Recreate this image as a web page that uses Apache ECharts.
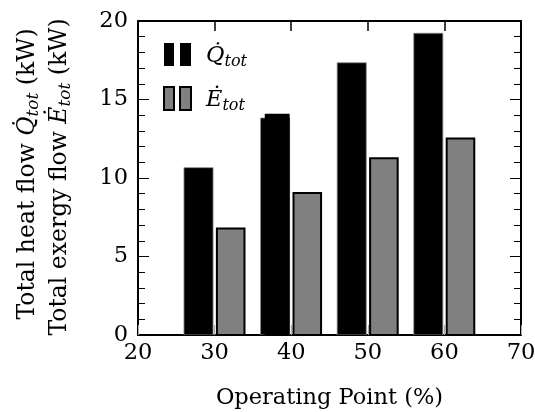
<!DOCTYPE html>
<html>
<head>
<meta charset="utf-8">
<script src="https://cdn.jsdelivr.net/npm/echarts@6/dist/echarts.min.js"></script>
<style>html,body{margin:0;padding:0;background:#fff}#c{width:535px;height:412px}</style>
</head>
<body>
<div id="c"></div>
<script>
// ---- data ----
var operatingPoints = [30, 40, 50, 60];
var heatFlow = [10.66, 13.82, 17.34, 19.22];      // Q_tot (kW)
var exergyFlow = [6.78, 9.04, 11.26, 12.52];      // E_tot (kW)
// small overlapping black patch seen at the 40 % bar
var heatFlowOverlapPoint = [40];
var heatFlowOverlapValue = [14.1];
var xTicks = [20, 30, 40, 50, 60, 70];
var yTicks = [0, 5, 10, 15, 20];

var FONT = 'DejaVu Serif';
var FS = 22.5;
var chart = echarts.init(document.getElementById('c'), null, {renderer: 'canvas'});

function rectItem(x0, x1, v, api, fill, stroke, lw) {
  var p0 = api.coord([x0, v]);
  var p1 = api.coord([x1, 0]);
  return {
    type: 'rect',
    shape: {x: p0[0], y: p0[1], width: p1[0] - p0[0], height: p1[1] - p0[1]},
    style: {fill: fill, stroke: stroke, lineWidth: lw}
  };
}

var heatData = operatingPoints.map(function (p, i) { return [p, heatFlow[i], 0]; })
  .concat(heatFlowOverlapPoint.map(function (p, i) { return [p, heatFlowOverlapValue[i], 1]; }));
var exergyData = operatingPoints.map(function (p, i) { return [p, exergyFlow[i]]; });

var sub = {fontFamily: FONT, fontStyle: 'italic', fontSize: 16, color: '#000', verticalAlign: 'bottom', lineHeight: 27};
var ital = {fontFamily: FONT, fontStyle: 'italic', fontSize: FS, color: '#000', lineHeight: 27};
var tsub = {fontFamily: FONT, fontStyle: 'italic', fontSize: 17, color: '#000', verticalAlign: 'bottom', lineHeight: 28};
var tital = {fontFamily: FONT, fontStyle: 'italic', fontSize: 23.5, color: '#000', lineHeight: 28};
var tnorm = {fontFamily: FONT, fontSize: 23.5, color: '#000', lineHeight: 28};

var option = {
  animation: false,
  backgroundColor: '#fff',
  grid: {left: 138, right: 14, top: 21, bottom: 77, containLabel: false, outerBoundsMode: 'none'},
  xAxis: [{
    type: 'value', min: 20, max: 70, interval: 10, position: 'bottom',
    name: 'Operating Point (%)', nameLocation: 'middle', nameGap: 52,
    nameTextStyle: {fontFamily: FONT, fontSize: FS, color: '#000'},
    axisLine: {show: true, onZero: false, lineStyle: {color: '#000', width: 2}},
    axisTick: {show: true, inside: true, length: 10, lineStyle: {color: '#aaa', width: 1}},
    axisLabel: {show: true, margin: 7, fontFamily: FONT, fontSize: FS, color: '#000',
      formatter: function (v) { return xTicks.indexOf(v) >= 0 ? String(v) : ''; }},
    splitLine: {show: false}
  }, {
    type: 'value', min: 20, max: 70, interval: 10, position: 'top',
    axisLine: {show: true, onZero: false, lineStyle: {color: '#000', width: 2}},
    axisTick: {show: true, inside: true, length: 10, lineStyle: {color: '#000', width: 1.5}},
    axisLabel: {show: false}, splitLine: {show: false}
  }],
  yAxis: [{
    type: 'value', min: 0, max: 20, interval: 5, position: 'left',
    axisLine: {show: true, onZero: false, lineStyle: {color: '#000', width: 2}},
    axisTick: {show: true, inside: true, length: 11, lineStyle: {color: '#000', width: 1}},
    minorTick: {show: true, splitNumber: 5, length: 7, lineStyle: {color: '#000', width: 1}},
    axisLabel: {show: true, margin: 10, fontFamily: FONT, fontSize: FS, color: '#000',
      formatter: function (v) { return yTicks.indexOf(v) >= 0 ? String(v) : ''; }},
    splitLine: {show: false}
  }, {
    type: 'value', min: 0, max: 20, interval: 5, position: 'right',
    axisLine: {show: true, onZero: false, lineStyle: {color: '#000', width: 2}},
    axisTick: {show: true, inside: true, length: 11, lineStyle: {color: '#000', width: 1}},
    minorTick: {show: true, splitNumber: 5, length: 7, lineStyle: {color: '#000', width: 1}},
    axisLabel: {show: false}, splitLine: {show: false}
  }],
  legend: {
    orient: 'vertical', left: 158, top: 38, itemWidth: 27, itemHeight: 23, itemGap: 16,
    icon: 'path://M0,0h10v23h-10zM16,0h11v23h-11z',
    textStyle: {fontFamily: FONT, fontSize: FS, color: '#000', padding: [4, 0, 0, 10],
      rich: {i: ital, s: sub}},
    formatter: function (name) {
      return name === 'Q' ? '{i|Q\u0307}{s|tot}' : '{i|\u0116}{s|tot}';
    },
    data: [
      {name: 'Q', itemStyle: {color: '#000', borderColor: '#000', borderWidth: 0}},
      {name: 'E', itemStyle: {color: '#808080', borderColor: '#000', borderWidth: 2}}
    ]
  },
  graphic: [{
    type: 'text', x: 28, y: 174, rotation: Math.PI / 2,
    style: {text: '{n|Total heat flow }{i|Q\u0307}{s|tot}{n| (kW)}', rich: {n: tnorm, i: tital, s: tsub},
      align: 'center', verticalAlign: 'middle'}
  }, {
    type: 'text', x: 60, y: 177, rotation: Math.PI / 2,
    style: {text: '{n|Total exergy flow }{i|\u0116}{s|tot}{n| (kW)}', rich: {n: tnorm, i: tital, s: tsub},
      align: 'center', verticalAlign: 'middle'}
  }],
  series: [{
    name: 'Q', type: 'custom', xAxisIndex: 0, yAxisIndex: 0, clip: true,
    itemStyle: {color: '#000'},
    encode: {x: 0, y: 1},
    renderItem: function (params, api) {
      var p = api.value(0), v = api.value(1), extra = api.value(2);
      if (extra) {
        return rectItem(p - 3.45, p - 0.2, v, api, '#000', '#000', 0);
      }
      return rectItem(p - 4, p - 0.2, v, api, '#000', '#8c8c8c', 0.8);
    },
    data: heatData
  }, {
    name: 'E', type: 'custom', xAxisIndex: 0, yAxisIndex: 0, clip: true,
    itemStyle: {color: '#808080', borderColor: '#000', borderWidth: 2},
    encode: {x: 0, y: 1},
    renderItem: function (params, api) {
      var p = api.value(0), v = api.value(1);
      return rectItem(p + 0.3, p + 3.9, v, api, '#808080', '#000', 2);
    },
    data: exergyData
  }]
};
chart.setOption(option);
</script>
</body>
</html>
